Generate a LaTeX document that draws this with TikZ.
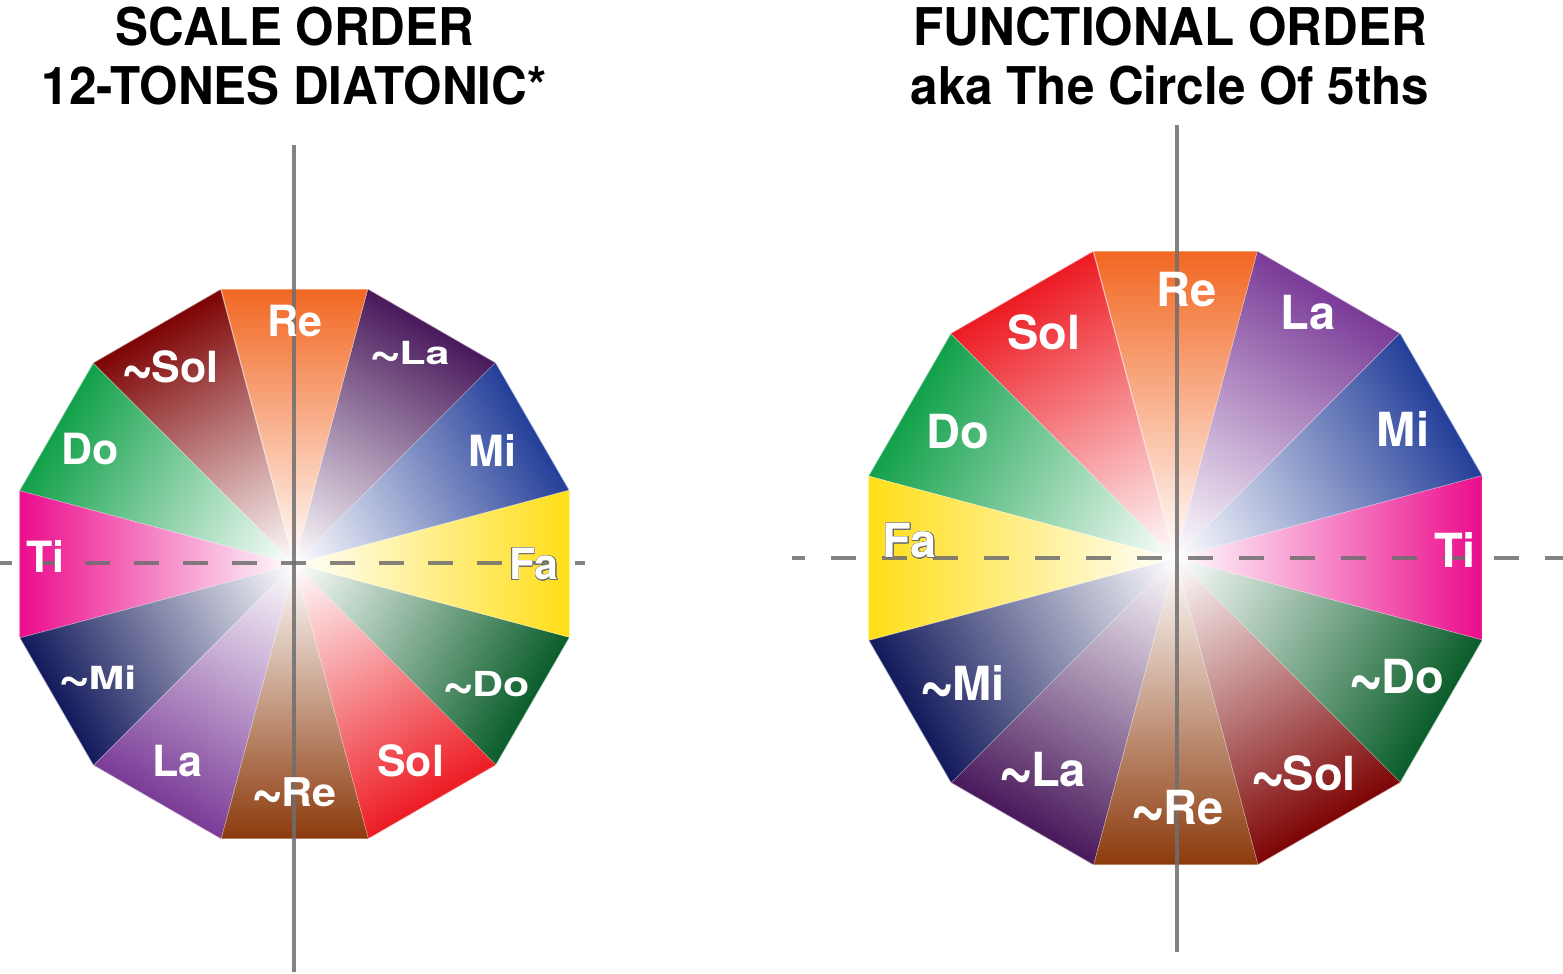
\documentclass[tikz,border=0pt]{standalone}
\usepackage{fontspec}
\setmainfont{TeX Gyre Heros}
\usepackage{contour}
\contourlength{0.7pt}
\definecolor{cRe}{HTML}{F26722}
\definecolor{cLa}{HTML}{7B3C98}
\definecolor{ctLa}{HTML}{4A1A5C}
\definecolor{cMi}{HTML}{25409A}
\definecolor{ctMi}{HTML}{141B5C}
\definecolor{cFa}{HTML}{FFDE17}
\definecolor{cDo}{HTML}{13A14B}
\definecolor{ctDo}{HTML}{0B5E2B}
\definecolor{cSol}{HTML}{ED1C24}
\definecolor{ctSol}{HTML}{7E0505}
\definecolor{ctRe}{HTML}{8C3A0C}
\definecolor{cTi}{HTML}{EC0C8C}
\definecolor{axisgray}{HTML}{6E6E6E}
\newcommand\mkshade[1]{\pgfdeclarehorizontalshading{sh#1}{100bp}{color(0bp)=(white); color(50bp)=(white); color(75bp)=(c#1); color(100bp)=(c#1)}}
\mkshade{Re}\mkshade{La}\mkshade{tLa}\mkshade{Mi}\mkshade{tMi}\mkshade{Fa}
\mkshade{Do}\mkshade{tDo}\mkshade{Sol}\mkshade{tSol}\mkshade{tRe}\mkshade{Ti}
\newcommand\tld{\makebox[0.7em][l]{\raisebox{-0.15em}{\scalebox{1.3}[1.75]{\textasciitilde}}}}
% segment: cx, cy, apothem, angle, colour key
\newcommand\seg[5]{%
  \begin{scope}[shift={(#1,#2)}]
    \pgfmathsetmacro\rr{#3/cos(15)}
    \begin{scope}
      \clip (0,0) -- (#4-15:\rr) -- (#4+15:\rr) -- cycle;
      \shade[shading=sh#5, shading angle=#4] (-#3,-#3) rectangle (#3,#3);
    \end{scope}
    \draw[segline] (0,0) -- (#4-15:\rr);
  \end{scope}}
\newcommand\rim[3]{%
  \begin{scope}[shift={(#1,#2)}]
    \pgfmathsetmacro\rr{#3/cos(15)}
    \draw[segline] (15:\rr) -- (45:\rr) -- (75:\rr) -- (105:\rr) -- (135:\rr) -- (165:\rr) -- (195:\rr) -- (225:\rr) -- (255:\rr) -- (285:\rr) -- (315:\rr) -- (345:\rr) -- cycle;
  \end{scope}}
\begin{document}
\begin{tikzpicture}[x=1pt,y=1pt,
  segline/.style={white, opacity=0.55, line width=1.2pt, line join=round},
  axisline/.style={axisgray, opacity=0.85, line width=4pt},
  title/.style={font=\bfseries\fontsize{52}{52}\selectfont, anchor=base, inner sep=0pt},
  labL/.style={text=white, font=\bfseries\fontsize{43}{43}\selectfont, anchor=base, inner sep=0pt},
  labR/.style={text=white, font=\bfseries\fontsize{47}{47}\selectfont, anchor=base, inner sep=0pt}]
\fill[white] (0,0) rectangle (1563,974);
\useasboundingbox (0,0) rectangle (1563,974);
% titles
\node[title] (t1) at (295,928) {\scalebox{0.95}[1]{SCALE ORDER}};
\node[title] (t2) at (294,869) {\scalebox{0.95}[1]{12-TONES DIATONIC*}};
\node[title] (t3) at (1170,928) {\scalebox{0.95}[1]{FUNCTIONAL ORDER}};
\node[title] (t4) at (1170,869) {\scalebox{0.95}[1]{aka The Circle Of 5ths}};
% left dodecagon (scale order)
\seg{294.5}{410}{275}{90}{Re}
\seg{294.5}{410}{275}{60}{tLa}
\seg{294.5}{410}{275}{30}{Mi}
\seg{294.5}{410}{275}{0}{Fa}
\seg{294.5}{410}{275}{-30}{tDo}
\seg{294.5}{410}{275}{-60}{Sol}
\seg{294.5}{410}{275}{-90}{tRe}
\seg{294.5}{410}{275}{-120}{La}
\seg{294.5}{410}{275}{-150}{tMi}
\seg{294.5}{410}{275}{180}{Ti}
\seg{294.5}{410}{275}{150}{Do}
\seg{294.5}{410}{275}{120}{tSol}
\rim{294.5}{410}{275}
% right dodecagon (functional order)
\seg{1175.5}{416}{307}{90}{Re}
\seg{1175.5}{416}{307}{60}{La}
\seg{1175.5}{416}{307}{30}{Mi}
\seg{1175.5}{416}{307}{0}{Ti}
\seg{1175.5}{416}{307}{-30}{tDo}
\seg{1175.5}{416}{307}{-60}{tSol}
\seg{1175.5}{416}{307}{-90}{tRe}
\seg{1175.5}{416}{307}{-120}{tLa}
\seg{1175.5}{416}{307}{-150}{tMi}
\seg{1175.5}{416}{307}{180}{Fa}
\seg{1175.5}{416}{307}{150}{Do}
\seg{1175.5}{416}{307}{120}{Sol}
\rim{1175.5}{416}{307}
% axes
\coordinate (lvt) at (293.5,829);
\coordinate (lvb) at (293.5,2);
\coordinate (lhl) at (0,410.5);
\coordinate (lhr) at (585,410.5);
\coordinate (rvt) at (1176.5,849);
\coordinate (rvb) at (1176.5,22);
\coordinate (rhl) at (792,416);
\coordinate (rhr) at (1563,416);
\draw[axisline] (lvt) -- (lvb);
\draw[axisline, dash pattern=on 25pt off 24pt, dash phase=13pt] (lhl) -- (lhr);
\draw[axisline] (rvt) -- (rvb);
\draw[axisline, dash pattern=on 25pt off 26pt, dash phase=12pt] (rhl) -- (rhr);
% left labels
\node[labL] (lRe) at (294.5,637) {Re};
\node[labL] (ltLa) at (409.5,609) {\scalebox{1}[0.74]{\tld La}};
\node[labL] (lMi) at (492.5,507.5) {Mi};
\node[labL] (lFa) at (534,394) {\contour{axisgray}{Fa}};
\node[labL] (ltDo) at (486,277) {\scalebox{1}[0.8]{\tld Do}};
\node[labL] (lSol) at (410.5,197) {Sol};
\node[labL] (ltRe) at (294,167) {\scalebox{1}[0.92]{\tld Re}};
\node[labL] (lLa) at (177.5,197) {La};
\node[labL] (ltMi) at (97.5,284) {\scalebox{1}[0.74]{\tld Mi}};
\node[labL] (lTi) at (45.5,401.5) {Ti};
\node[labL] (lDo) at (90,509) {Do};
\node[labL] (ltSol) at (170,591) {\tld Sol};
% right labels
\node[labR] (rRe) at (1187,667) {Re};
\node[labR] (rLa) at (1308,644) {La};
\node[labR] (rMi) at (1403,527) {Mi};
\node[labR] (rTi) at (1455,406) {Ti};
\node[labR] (rtDo) at (1396,280) {\tld Do};
\node[labR] (rtSol) at (1303,183) {\tld Sol};
\node[labR] (rtRe) at (1177,149) {\tld Re};
\node[labR] (rtLa) at (1042,187) {\tld La};
\node[labR] (rtMi) at (962,273) {\tld Mi};
\node[labR] (rFa) at (910,416) {\contour{axisgray}{Fa}};
\node[labR] (rDo) at (958,525) {Do};
\node[labR] (rSol) at (1044,624) {Sol};
\end{tikzpicture}
\end{document}
